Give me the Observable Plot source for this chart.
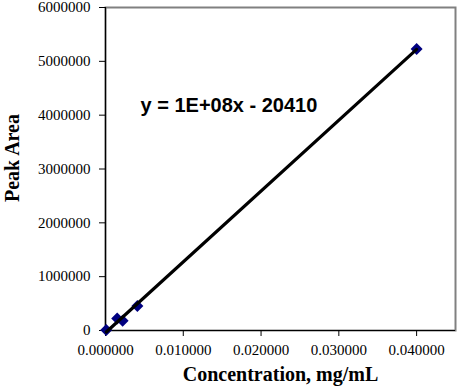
<!DOCTYPE html>
<html><head><meta charset="utf-8">
<script src="https://cdn.jsdelivr.net/npm/d3@7"></script>
<script src="https://cdn.jsdelivr.net/npm/@observablehq/plot@0.6"></script>
<style>body{margin:0;background:#fff}</style>
</head><body><div id="chart"></div>
<script>
const concentration = [0.0001, 0.0015, 0.0022, 0.0041, 0.0400];
const peakArea = [10000, 225000, 180000, 455000, 5227000];
const xTicks = [0, 0.01, 0.02, 0.03, 0.04];
const yTicks = [0, 1000000, 2000000, 3000000, 4000000, 5000000, 6000000];
const equationText = "y = 1E+08x - 20410";
const xTitle = "Concentration, mg/mL";
const yTitle = "Peak Area";
const data = concentration.map((x, i) => ({x, y: peakArea[i]}));

const chart = Plot.plot({
  width: 463, height: 392,
  marginLeft: 105, marginRight: 8, marginTop: 7, marginBottom: 62,
  style: {fontFamily: "'Liberation Serif', 'Times New Roman', serif", fontSize: "15px", color: "#000", background: "#fff", overflow: "visible"},
  x: {domain: [0, 0.045]},
  y: {domain: [0, 6000000]},
  marks: [
    Plot.frame({stroke: "#808080", strokeWidth: 2}),
    Plot.axisX({ticks: xTicks, tickFormat: d3.format(".6f"), tickSize: 6, tickPadding: 8, label: null, fontSize: 15}),
    Plot.axisY({ticks: yTicks, tickFormat: d3.format("d"), tickSize: 6, tickPadding: 9, label: null, fontSize: 15}),
    Plot.ruleX([0], {stroke: "#000", strokeWidth: 1.2}),
    Plot.ruleY([0], {stroke: "#000", strokeWidth: 1.2}),
    Plot.dot(data, {x: "x", y: "y", symbol: "diamond2", r: 5.4, fill: "#000080", stroke: "none"}),
    Plot.linearRegressionY(data, {x: "x", y: "y", ci: 0, stroke: "#000", strokeWidth: 3.2}),
    Plot.text([equationText], {text: d => d, frameAnchor: "top-left", textAnchor: "start", lineAnchor: "bottom", dx: 35, dy: 104, fontFamily: "'Liberation Sans', Arial, sans-serif", fontWeight: "bold", fontSize: 20, fill: "#000"}),
    Plot.text([xTitle], {text: d => d, frameAnchor: "bottom", textAnchor: "middle", lineAnchor: "bottom", dy: 50, fontWeight: "bold", fontSize: 20, fill: "#000"}),
    Plot.text([yTitle], {text: d => d, frameAnchor: "left", textAnchor: "middle", lineAnchor: "middle", rotate: -90, dx: -93, dy: -11, fontWeight: "bold", fontSize: 20, fill: "#000"})
  ]
});
document.getElementById("chart").append(chart);
</script>
</body></html>
